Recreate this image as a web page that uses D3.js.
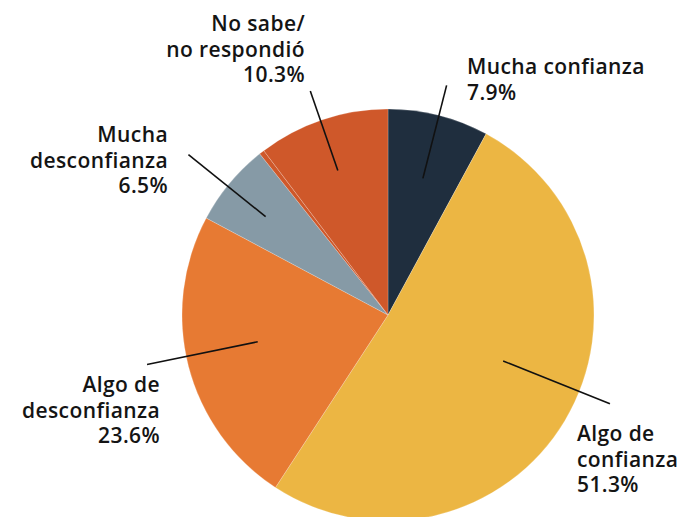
<!DOCTYPE html>
<html><head><meta charset="utf-8">
<script src="https://cdn.jsdelivr.net/npm/d3@7"></script>
<style>html,body{margin:0;padding:0;background:#fff;}svg{display:block;}</style>
</head><body>
<svg id="chart" width="682" height="517"></svg>
<script>
const categories = ["Mucha confianza", "Algo de confianza", "Algo de desconfianza", "Mucha desconfianza", "Otro", "No sabe/ no respondió"];
const values = [7.9, 51.3, 23.6, 6.5, 0.4, 10.3];
const labelLines = [["Mucha confianza"], ["Algo de", "confianza"], ["Algo de", "desconfianza"], ["Mucha", "desconfianza"], [], ["No sabe/", "no respondió"]];
const valueLabels = ["7.9%", "51.3%", "23.6%", "6.5%", "", "10.3%"];
const colors = ["#1f2e3e", "#ecb643", "#e77a33", "#869aa6", "#cf582a", "#cf582a"];

// layout (not data)
const W = 682, H = 517, cx = 388, cy = 315, R = 206;
const layout = [
  {dA: 0.1, rIn: 141, rOut: 237, tx: 467, ty: 74, anchor: "start"},
  {dA: -9, rIn: 124, rOut: 239, tx: 577, ty: 441, anchor: "start"},
  {dA: 2.8, rIn: 133, rOut: 246, tx: 160, ty: 392, anchor: "end"},
  {dA: -1, rIn: 157, rOut: 256, tx: 168, ty: 142, anchor: "end"},
  null,
  {dA: -0.6, rIn: 153, rOut: 237, tx: 305, ty: 31, anchor: "end"}
];
const lineH = 25.5;

const data = categories.map((c, i) => ({name: c, value: values[i], i}));
const svg = d3.select("#chart");
const g = svg.append("g").attr("transform", `translate(${cx},${cy})`);

const pie = d3.pie().value(d => d.value).sort(null);
const arc = d3.arc().innerRadius(0).outerRadius(R);
const arcs = pie(data);

g.selectAll("path.slice").data(arcs).join("path")
  .attr("class", "slice")
  .attr("d", arc)
  .attr("fill", d => colors[d.data.i])
  .attr("stroke", "rgba(255,255,255,0.35)")
  .attr("stroke-width", 0.6);

const pt = (angDeg, r) => {
  const a = angDeg * Math.PI / 180;
  return [r * Math.sin(a), -r * Math.cos(a)];
};

arcs.forEach(d => {
  const L = layout[d.data.i];
  if (!L) return;
  const mid = (d.startAngle + d.endAngle) / 2 * 180 / Math.PI + L.dA;
  const p1 = pt(mid, L.rIn), p2 = pt(mid, L.rOut);
  g.append("line")
    .attr("x1", p1[0]).attr("y1", p1[1]).attr("x2", p2[0]).attr("y2", p2[1])
    .attr("stroke", "#111").attr("stroke-width", 1.6);
  const lines = labelLines[d.data.i].concat([valueLabels[d.data.i]]);
  const t = svg.append("text")
    .attr("x", L.tx).attr("y", L.ty)
    .attr("text-anchor", L.anchor)
    .attr("font-family", "'Open Sans', sans-serif")
    .attr("font-weight", 600)
    .attr("font-size", 21)
    .attr("letter-spacing", 0.4)
    .attr("fill", "#141414");
  lines.forEach((s, k) => {
    t.append("tspan").attr("x", L.tx).attr("y", L.ty + k * lineH).text(s);
  });
});
</script>
</body></html>
